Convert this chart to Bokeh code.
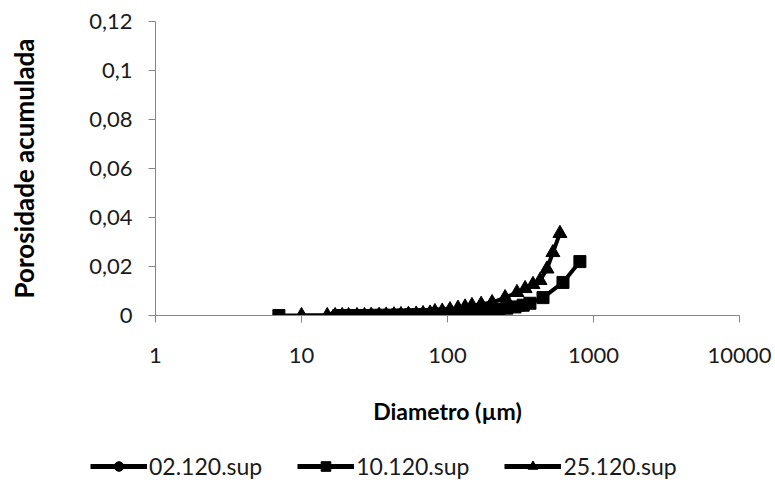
from bokeh.plotting import figure
from bokeh.layouts import column, row
from bokeh.models import (FixedTicker, CustomJSTickFormatter, Legend, LegendItem, Range1d)
from bokeh.embed import file_html
from bokeh.resources import INLINE

# ---- data ----
s02_x = [17, 19, 21, 23, 26, 29, 33, 37, 41, 46, 52, 58, 65, 73, 82, 92, 103, 116, 130, 146, 164, 184, 206, 232, 260, 292, 330]
s02_y = [0, 0, 0, 0, 0, 0, 0.0001, 0.0001, 0.0001, 0.0002, 0.0002, 0.0003, 0.0004, 0.0005, 0.0006, 0.0007, 0.0009, 0.0011, 0.0013, 0.0015, 0.0018, 0.0021, 0.0024, 0.0027, 0.0031, 0.0035, 0.004]

s10_x = [7, 18, 20, 22, 25, 28, 32, 36, 40, 45, 50, 56, 63, 70, 80, 90, 100, 112, 125, 140, 160, 180, 200, 225, 255, 290, 330, 367, 451, 618, 807]
s10_y = [0, 0, 0, 0, 0, 0, 0.0001, 0.0001, 0.0001, 0.0002, 0.0002, 0.0003, 0.0003, 0.0004, 0.0005, 0.0006, 0.0007, 0.0009, 0.0011, 0.0013, 0.0016, 0.0019, 0.0022, 0.0026, 0.003, 0.0035, 0.0042, 0.005, 0.0073, 0.0135, 0.022]

s25_x = [10, 15, 17, 19, 21, 24, 27, 30, 34, 38, 43, 48, 54, 61, 68, 76, 82, 92, 104, 118, 132, 147, 170, 202, 248, 299, 340, 385, 430, 480, 527, 589]
s25_y = [0, 0, 0, 0, 0, 0, 0, 0.0001, 0.0001, 0.0002, 0.0003, 0.0004, 0.0005, 0.0006, 0.0008, 0.001, 0.0016, 0.0018, 0.0024, 0.003, 0.0035, 0.0041, 0.0046, 0.0053, 0.0073, 0.0094, 0.011, 0.0127, 0.0143, 0.019, 0.0257, 0.0335]

series_names = ["02.120.sup", "10.120.sup", "25.120.sup"]
x_ticks = [1, 10, 100, 1000, 10000]
y_ticks = [0, 0.02, 0.04, 0.06, 0.08, 0.1, 0.12]

FONT = "Lato"
TXT = "#1a1a1a"

p = figure(frame_width=584, frame_height=294, x_axis_type="log",
           x_range=Range1d(1, 10000), y_range=Range1d(0, 0.12),
           output_backend="svg", toolbar_location=None,
           min_border_left=155, min_border_right=36, min_border_top=21, min_border_bottom=130)
p.outline_line_color = None
p.xgrid.visible = False
p.ygrid.visible = False
p.background_fill_color = "white"
p.border_fill_color = "white"

axis_col = "#868686"
for ax in (p.xaxis[0], p.yaxis[0]):
    ax.axis_line_color = axis_col
    ax.major_tick_line_color = axis_col
    ax.minor_tick_line_color = None
    ax.major_tick_out = 7
    ax.major_tick_in = 0
    ax.major_label_text_font = FONT
    ax.major_label_text_font_size = "22px"
    ax.major_label_text_color = TXT
    ax.axis_label_text_font = FONT
    ax.axis_label_text_font_style = "bold"
    ax.axis_label_text_color = "black"

p.xaxis.ticker = FixedTicker(ticks=x_ticks)
p.xaxis.formatter = CustomJSTickFormatter(code="return tick.toFixed(0);")
p.xaxis.major_label_standoff = 25
p.xaxis.axis_label = "Diametro (µm)"
p.xaxis.axis_label_standoff = 31
p.xaxis.axis_label_text_font_size = "23px"

p.yaxis.ticker = FixedTicker(ticks=y_ticks)
p.yaxis.formatter = CustomJSTickFormatter(
    code="return tick.toFixed(2).replace(/0+$/,'').replace(/\\.$/,'').replace('.',',');")
p.yaxis.major_label_standoff = 16
p.yaxis.axis_label = "Porosidade acumulada"
p.yaxis.axis_label_standoff = 46
p.yaxis.axis_label_text_font_size = "26px"

lw = 4
p.line(s02_x, s02_y, line_color="black", line_width=lw)
p.scatter(s02_x, s02_y, marker="circle", size=11, color="black")
p.line(s10_x, s10_y, line_color="black", line_width=lw)
p.scatter(s10_x, s10_y, marker="square", size=12, color="black")
p.line(s25_x, s25_y, line_color="black", line_width=lw)
p.scatter(s25_x, s25_y, marker="triangle", size=14, color="black")

# ---- legend strip below the chart ----
lf = figure(width=775, height=44, x_range=Range1d(0, 1), y_range=Range1d(0, 1),
            output_backend="svg", toolbar_location=None,
            x_axis_location=None, y_axis_location=None,
            min_border_left=0, min_border_right=0, min_border_top=0, min_border_bottom=0)
lf.outline_line_color = None
lf.xgrid.visible = False
lf.ygrid.visible = False
lf.border_fill_color = "white"

markers = ["circle", "square", "triangle"]
msizes = [12, 11, 14]
items = []
for name, mk, ms in zip(series_names, markers, msizes):
    rl = lf.line([5, 6], [5, 6], line_color="black", line_width=lw + 1)
    rm = lf.scatter([5], [5], marker=mk, size=ms, color="black")
    items.append(LegendItem(label=name, renderers=[rl, rm]))

legend = Legend(items=items, orientation="horizontal", location=(90, 9),
                label_text_font=FONT, label_text_font_size="23px", label_text_color=TXT,
                glyph_width=57, glyph_height=24, spacing=35, label_standoff=2,
                border_line_color=None, background_fill_alpha=0,
                margin=0, padding=0)
lf.add_layout(legend, "center")

layout = column(p, row(lf, spacing=0), spacing=0)
open("out.html", "w").write(file_html(layout, INLINE))
